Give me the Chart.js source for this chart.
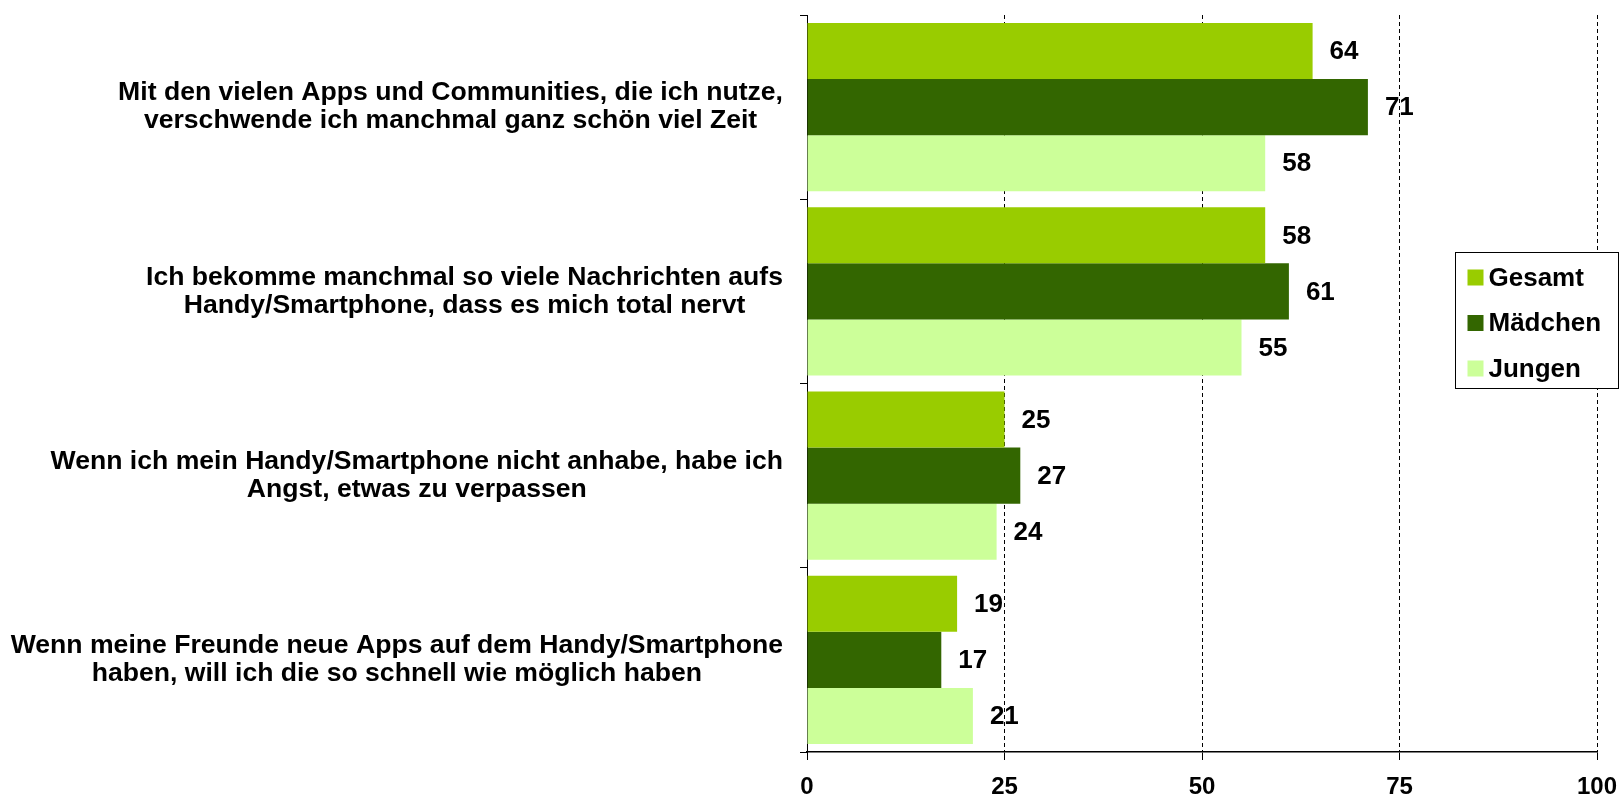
<!DOCTYPE html>
<html>
<head>
<meta charset="utf-8">
<script src="https://cdn.jsdelivr.net/npm/chart.js@4.4.1/dist/chart.umd.min.js"></script>
<style>
    html, body { margin: 0; padding: 0; background: #fff; }
    #wrap { width: 1623px; height: 800px; }
</style>
</head>
<body>
<div id="wrap"><canvas id="umfrageChart" width="1623" height="800"></canvas></div>
<script>
const statements = [
    ['Mit den vielen Apps und Communities, die ich nutze,', 'verschwende ich manchmal ganz schön viel Zeit'],
    ['Ich bekomme manchmal so viele Nachrichten aufs', 'Handy/Smartphone, dass es mich total nervt'],
    ['Wenn ich mein Handy/Smartphone nicht anhabe, habe ich', 'Angst, etwas zu verpassen'],
    ['Wenn meine Freunde neue Apps auf dem Handy/Smartphone', 'haben, will ich die so schnell wie möglich haben']
];
const gesamt = [64, 58, 25, 19];
const maedchen = [71, 61, 27, 17];
const jungen = [58, 55, 24, 21];
const seriesNames = ['Gesamt', 'Mädchen', 'Jungen'];
const seriesColors = ['#99CC00', '#336600', '#CCFF99'];
const xTicks = [0, 25, 50, 75, 100];

const FONT = '"Liberation Sans", Arial, sans-serif';

// statement text left of the axis: block right-aligned, lines centered inside it
const statementLabels = {
    id: 'statementLabels',
    afterDraw(chart) {
        const ctx = chart.ctx;
        const y = chart.scales.y;
        ctx.save();
        ctx.font = 'bold 26.6px ' + FONT;
        ctx.fillStyle = '#000';
        ctx.textAlign = 'center';
        ctx.textBaseline = 'middle';
        const lineH = 28;
        const right = y.right - 24;
        statements.forEach((lines, i) => {
            const cy = y.getPixelForValue(i);
            const w = Math.max(...lines.map(l => ctx.measureText(l).width));
            const cx = right - w / 2;
            lines.forEach((l, j) => {
                ctx.fillText(l, cx, cy + (j - (lines.length - 1) / 2) * lineH);
            });
        });
        ctx.restore();
    }
};

// numbers next to the bar ends
const valueLabels = {
    id: 'valueLabels',
    afterDatasetsDraw(chart) {
        const ctx = chart.ctx;
        ctx.save();
        ctx.font = 'bold 26px ' + FONT;
        ctx.fillStyle = '#000';
        ctx.textAlign = 'left';
        ctx.textBaseline = 'middle';
        chart.data.datasets.forEach((ds, di) => {
            chart.getDatasetMeta(di).data.forEach((bar, i) => {
                ctx.fillText(String(ds.data[i]), bar.x + 17, bar.y + 1);
            });
        });
        ctx.restore();
    }
};

// boxed legend sitting over the right part of the plot
const boxLegend = {
    id: 'boxLegend',
    afterDraw(chart) {
        const ctx = chart.ctx;
        const bx = 1455.5, by = 252.5, bw = 163, bh = 136;
        ctx.save();
        ctx.fillStyle = '#fff';
        ctx.fillRect(bx, by, bw, bh);
        ctx.strokeStyle = '#000';
        ctx.lineWidth = 1;
        ctx.strokeRect(bx, by, bw, bh);
        ctx.font = 'bold 26px ' + FONT;
        ctx.textAlign = 'left';
        ctx.textBaseline = 'middle';
        chart.data.datasets.forEach((ds, i) => {
            const cy = by + 25 + i * 45.5;
            ctx.fillStyle = ds.backgroundColor;
            ctx.fillRect(bx + 12, cy - 8, 16, 16);
            ctx.fillStyle = '#000';
            ctx.fillText(ds.label, bx + 33, cy + 1);
        });
        ctx.restore();
    }
};

new Chart(document.getElementById('umfrageChart'), {
    type: 'bar',
    data: {
        labels: statements.map(s => s.join(' ')),
        datasets: [
            { label: seriesNames[0], data: gesamt, backgroundColor: seriesColors[0] },
            { label: seriesNames[1], data: maedchen, backgroundColor: seriesColors[1] },
            { label: seriesNames[2], data: jungen, backgroundColor: seriesColors[2] }
        ]
    },
    options: {
        indexAxis: 'y',
        responsive: false,
        animation: false,
        devicePixelRatio: 1,
        layout: { padding: { left: 0, top: 15, right: 26, bottom: 0 } },
        datasets: {
            bar: { categoryPercentage: 0.912, barPercentage: 1, borderWidth: 0 }
        },
        plugins: {
            legend: { display: false },
            tooltip: { enabled: false }
        },
        scales: {
            x: {
                min: 0,
                max: 100,
                afterBuildTicks: s => { s.ticks = xTicks.map(v => ({ value: v })); },
                afterFit: s => {
                    s.height = 48;
                    s.paddingLeft = 0;
                    s.paddingRight = 0;
                },
                grid: {
                    color: c => (c.tick && c.tick.value === 0 ? 'rgba(0,0,0,0)' : '#000'),
                    lineWidth: 1,
                    tickColor: '#000',
                    tickLength: 8
                },
                border: { color: '#000', width: 1.5, dash: [4, 3] },
                ticks: {
                    color: '#000',
                    padding: 13,
                    font: { family: FONT, size: 24, weight: 'bold' }
                }
            },
            y: {
                afterFit: s => { s.width = 807; },
                grid: {
                    drawOnChartArea: false,
                    color: '#000',
                    tickLength: 7
                },
                border: { color: '#000', width: 1 },
                ticks: { display: false }
            }
        }
    },
    plugins: [valueLabels, statementLabels, boxLegend]
});
</script>
</body>
</html>
